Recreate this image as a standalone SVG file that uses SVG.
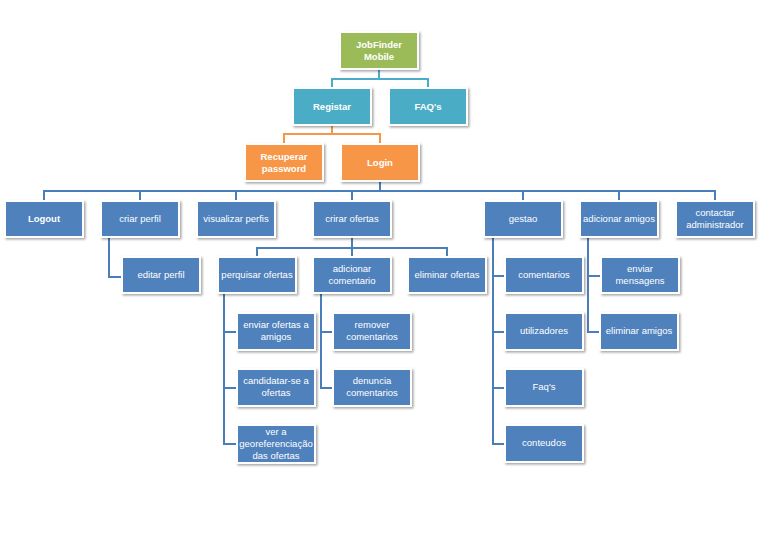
<svg xmlns="http://www.w3.org/2000/svg" width="768" height="543" viewBox="0 0 768 543">
<defs>
<filter id="sh" x="-10%" y="-10%" width="130%" height="140%">
<feDropShadow dx="1.5" dy="1.5" stdDeviation="1.2" flood-color="#000" flood-opacity="0.35"/>
</filter>
<style>
.b{stroke:#fff;stroke-width:2;filter:url(#sh)}
.g{fill:#9BBB59}.t{fill:#4BACC6}.o{fill:#F79646}.u{fill:#4F81BD}
text{font-family:"Liberation Sans",Arial,sans-serif;font-size:9.5px;fill:#fff;text-anchor:middle}
.bd{font-weight:bold}
.c{fill:none;stroke-width:2}
.cb{stroke:#4A7EBB}.ct{stroke:#4BACC6}.co{stroke:#F79646}
</style>
</defs>
<rect width="768" height="543" fill="#fff"/>
<g id="connectors">
<path class="c ct" d="M379 70V79M332 88V79H428V88"/>
<path class="c co" d="M332 126V134M284 144V134H380V144"/>
<path class="c cb" d="M380 182V191M44 200V191H715V200M140 191V200M236 191V200M352 191V200M523 191V200M619 191V200"/>
<path class="c cb" d="M352 238V248M257 256V248H447V256M352 248V256"/>
<path class="c cb" d="M109 238V277H122"/>
<path class="c cb" d="M224 294V444H237M224 332H237M224 388H237"/>
<path class="c cb" d="M321 294V388H333M321 332H333"/>
<path class="c cb" d="M493 238V444H505M493 276H505M493 332H505M493 388H505"/>
<path class="c cb" d="M588 238V332H600M588 276H601"/>
</g>
<g id="n-jobfinder"><rect class="b g" x="340" y="32" width="78" height="37"/><text class="bd" x="379" y="48">JobFinder</text><text class="bd" x="379" y="60">Mobile</text></g>
<g id="n-registar"><rect class="b t" x="293" y="88" width="78" height="37"/><text class="bd" x="332" y="110">Registar</text></g>
<g id="n-faqs"><rect class="b t" x="389" y="88" width="78" height="37"/><text class="bd" x="428" y="110">FAQ's</text></g>
<g id="n-recuperar"><rect class="b o" x="245" y="144" width="78" height="37"/><text class="bd" x="284" y="160">Recuperar</text><text class="bd" x="284" y="172">password</text></g>
<g id="n-login"><rect class="b o" x="341" y="144" width="78" height="37"/><text class="bd" x="380" y="166">Login</text></g>
<g id="n-logout"><rect class="b u" x="5" y="201" width="78" height="36"/><text class="bd" x="44" y="222">Logout</text></g>
<g id="n-criar-perfil"><rect class="b u" x="101" y="201" width="78" height="36"/><text x="140" y="222">criar perfil</text></g>
<g id="n-visualizar"><rect class="b u" x="197" y="201" width="78" height="36"/><text x="236" y="222">visualizar perfis</text></g>
<g id="n-crirar"><rect class="b u" x="313" y="201" width="78" height="36"/><text x="352" y="222">crirar ofertas</text></g>
<g id="n-gestao"><rect class="b u" x="484" y="201" width="78" height="36"/><text x="523" y="222">gestao</text></g>
<g id="n-adicionar-amigos"><rect class="b u" x="580" y="201" width="78" height="36"/><text x="619" y="222">adicionar amigos</text></g>
<g id="n-contactar"><rect class="b u" x="676" y="201" width="78" height="36"/><text x="715" y="216">contactar</text><text x="715" y="228">administrador</text></g>
<g id="n-editar"><rect class="b u" x="122" y="257" width="78" height="36"/><text x="161" y="278">editar perfil</text></g>
<g id="n-perquisar"><rect class="b u" x="218" y="257" width="78" height="36"/><text x="257" y="278">perquisar ofertas</text></g>
<g id="n-adic-coment"><rect class="b u" x="313" y="257" width="78" height="36"/><text x="352" y="272">adicionar</text><text x="352" y="284">comentario</text></g>
<g id="n-eliminar-ofertas"><rect class="b u" x="408" y="257" width="78" height="36"/><text x="447" y="278">eliminar ofertas</text></g>
<g id="n-comentarios"><rect class="b u" x="505" y="257" width="78" height="36"/><text x="544" y="278">comentarios</text></g>
<g id="n-enviar-mensagens"><rect class="b u" x="601" y="257" width="78" height="36"/><text x="640" y="272">enviar</text><text x="640" y="284">mensagens</text></g>
<g id="n-enviar-ofertas"><rect class="b u" x="237" y="313" width="78" height="37"/><text x="276" y="328">enviar ofertas a</text><text x="276" y="340">amigos</text></g>
<g id="n-remover"><rect class="b u" x="333" y="313" width="78" height="37"/><text x="372" y="328">remover</text><text x="372" y="340">comentarios</text></g>
<g id="n-utilizadores"><rect class="b u" x="505" y="313" width="78" height="37"/><text x="544" y="334">utilizadores</text></g>
<g id="n-eliminar-amigos"><rect class="b u" x="600" y="313" width="78" height="37"/><text x="639" y="334">eliminar amigos</text></g>
<g id="n-candidatar"><rect class="b u" x="237" y="369" width="78" height="37"/><text x="276" y="384">candidatar-se a</text><text x="276" y="396">ofertas</text></g>
<g id="n-denuncia"><rect class="b u" x="333" y="369" width="78" height="37"/><text x="372" y="384">denuncia</text><text x="372" y="396">comentarios</text></g>
<g id="n-faq2"><rect class="b u" x="505" y="369" width="78" height="37"/><text x="544" y="390">Faq's</text></g>
<g id="n-ver"><rect class="b u" x="237" y="425" width="78" height="38"/><text x="276" y="435">ver a</text><text x="276" y="447">georeferenciação</text><text x="276" y="459">das ofertas</text></g>
<g id="n-conteudos"><rect class="b u" x="505" y="425" width="78" height="37"/><text x="544" y="446">conteudos</text></g>
</svg>
